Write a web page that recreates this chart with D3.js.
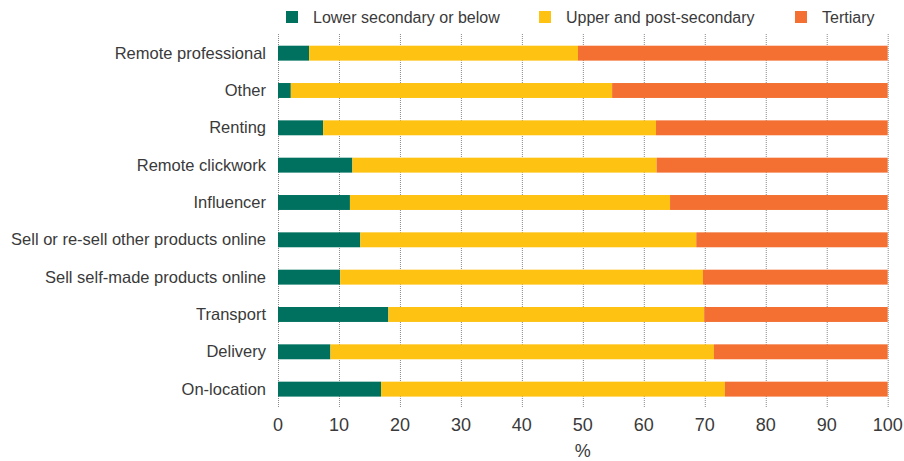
<!DOCTYPE html>
<html>
<head>
<meta charset="utf-8">
<script src="https://cdn.jsdelivr.net/npm/d3@7"></script>
<style>
  body { margin: 0; background: #fff; }
  text { font-family: "Liberation Sans", Arial, sans-serif; fill: #3a3a3a; }
</style>
</head>
<body>
<div id="chart"></div>
<script>
// categories, top to bottom
var categories = ["Remote professional", "Other", "Renting", "Remote clickwork", "Influencer",
    "Sell or re-sell other products online", "Sell self-made products online",
    "Transport", "Delivery", "On-location"];

// shares in %, one array per education level
var lowerSecondary = [5.1, 2.1, 7.4, 12.2, 11.8, 13.5, 10.2, 18.1, 8.6, 16.9];
var upperPostSecondary = [44.1, 52.7, 54.6, 49.9, 52.5, 55.1, 59.5, 51.8, 62.9, 56.4];
var tertiary = [50.8, 45.2, 38.0, 37.9, 35.7, 31.4, 30.3, 30.1, 28.5, 26.7];

var seriesNames = ["Lower secondary or below", "Upper and post-secondary", "Tertiary"];
var seriesColors = ["#00715f", "#fdc212", "#f37032"];
var xTicks = [0, 10, 20, 30, 40, 50, 60, 70, 80, 90, 100];

var width = 904;
var height = 461;

var svg = d3.select("#chart")
    .append("svg")
    .attr("width", width)
    .attr("height", height);

// build rows for the stack
var rows = categories.map(function(c, i) {
    return { cat: c, s0: lowerSecondary[i], s1: upperPostSecondary[i], s2: tertiary[i] };
});
var stack = d3.stack().keys(["s0", "s1", "s2"]);
var stacked = stack(rows);

var xScale = d3.scaleLinear()
    .domain([0, 100])
    .range([278, 887.7]);

var yScale = d3.scaleBand()
    .domain(categories)
    .range([34.5, 407.8])
    .paddingInner(0.6)
    .paddingOuter(0.3);

// dotted grid lines
svg.append("g")
    .selectAll("line")
    .data(xTicks)
    .enter()
    .append("line")
    .attr("x1", function(d) { return xScale(d) + 0.5; })
    .attr("x2", function(d) { return xScale(d) + 0.5; })
    .attr("y1", 34)
    .attr("y2", 408)
    .attr("stroke", "#8a8a8a")
    .attr("stroke-width", 1)
    .attr("stroke-dasharray", "1,1");

// bars
svg.append("g")
    .selectAll("g")
    .data(stacked)
    .enter()
    .append("g")
    .attr("fill", function(d, i) { return seriesColors[i]; })
    .selectAll("rect")
    .data(function(d) { return d; })
    .enter()
    .append("rect")
    .attr("x", function(d) { return xScale(d[0]); })
    .attr("width", function(d) { return xScale(d[1]) - xScale(d[0]); })
    .attr("y", function(d) { return yScale(d.data.cat); })
    .attr("height", yScale.bandwidth());

// category labels
svg.append("g")
    .selectAll("text")
    .data(categories)
    .enter()
    .append("text")
    .attr("x", 266)
    .attr("y", function(d) { return yScale(d) + yScale.bandwidth() / 2; })
    .attr("dy", "0.34em")
    .attr("text-anchor", "end")
    .attr("font-size", 16.5)
    .text(function(d) { return d; });

// x tick labels
svg.append("g")
    .selectAll("text")
    .data(xTicks)
    .enter()
    .append("text")
    .attr("x", function(d) { return xScale(d); })
    .attr("y", 431)
    .attr("text-anchor", "middle")
    .attr("font-size", 18)
    .text(function(d) { return d; });

svg.append("text")
    .attr("x", xScale(50))
    .attr("y", 457)
    .attr("text-anchor", "middle")
    .attr("font-size", 18)
    .text("%");

// legend
var legendX = [286, 539, 795];
var legend = svg.append("g")
    .selectAll("g")
    .data(seriesNames)
    .enter()
    .append("g")
    .attr("transform", function(d, i) { return "translate(" + legendX[i] + ",0)"; });

legend.append("rect")
    .attr("x", 0)
    .attr("y", 11)
    .attr("width", 12)
    .attr("height", 12)
    .attr("fill", function(d, i) { return seriesColors[i]; });

legend.append("text")
    .attr("x", 27)
    .attr("y", 17)
    .attr("dy", "0.36em")
    .attr("font-size", 16)
    .text(function(d) { return d; });
</script>
</body>
</html>
